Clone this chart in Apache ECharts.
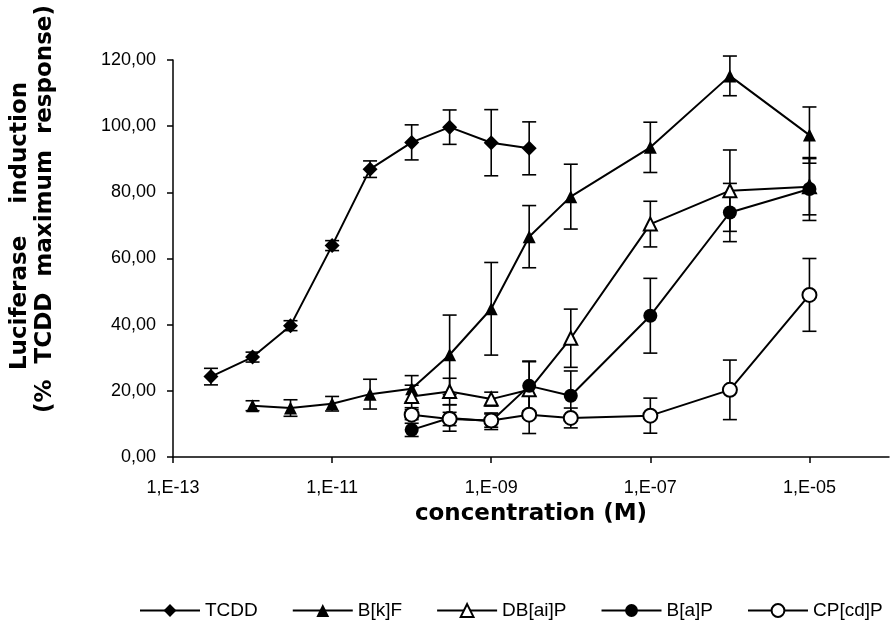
<!DOCTYPE html>
<html>
<head>
<meta charset="utf-8">
<script src="https://cdn.jsdelivr.net/npm/echarts@6/dist/echarts.min.js"></script>
<style>
  html, body { margin: 0; padding: 0; background: #fff; }
  #chart { width: 893px; height: 630px; }
</style>
</head>
<body>
<div id="chart"></div>
<script>
// concentrations (M) and % TCDD max response
var concTCDD = [3e-13, 1e-12, 3e-12, 1e-11, 3e-11, 1e-10, 3e-10, 1e-9, 3e-9];
var tcdd = [24.3, 30.2, 39.7, 63.9, 87.0, 95.1, 99.7, 95.0, 93.3];
var tcddErr = [2.5, 1.5, 1.5, 1.5, 2.5, 5.3, 5.2, 10, 8];

var concBkF = [1e-12, 3e-12, 1e-11, 3e-11, 1e-10, 3e-10, 1e-9, 3e-9, 1e-8, 1e-7, 1e-6, 1e-5];
var bkf = [15.5, 14.8, 16.1, 19.0, 20.6, 30.9, 44.8, 66.6, 78.7, 93.6, 115.2, 97.3];
var bkfErr = [1.5, 2.5, 2.2, 4.5, 4, 12, 14, 9.4, 9.8, 7.6, 6, 8.5];

var concOther = [1e-10, 3e-10, 1e-9, 3e-9, 1e-8, 1e-7, 1e-6, 1e-5];
var dbaip = [18.3, 19.8, 17.5, 20.3, 35.9, 70.4, 80.5, 81.7];
var dbaipErr = [3.4, 4, 2.1, 8.5, 8.8, 6.9, 12.3, 8.5];
var bap = [8.2, 11.8, 10.8, 21.5, 18.5, 42.7, 73.9, 81.0];
var bapErr = [2, 4, 2.5, 7.5, 7.5, 11.3, 8.8, 9.5];
var cpcdp = [12.8, 11.5, 11.0, 12.8, 11.8, 12.5, 20.3, 49.0];
var cpcdpErr = [1.5, 2, 2, 5.7, 3, 5.3, 9, 11];

var xTickExp = [-13, -11, -9, -7, -5];
var yTicks = [0, 20, 40, 60, 80, 100, 120];
var names = ['TCDD', 'B[k]F', 'DB[ai]P', 'B[a]P', 'CP[cd]P'];
var symbols = ['diamond', 'triangle', 'emptyTriangle', 'circle', 'emptyCircle'];
var sizes = [15, 13, 13, 14, 14];

var groups = [
    [concTCDD, tcdd, tcddErr],
    [concBkF, bkf, bkfErr],
    [concOther, dbaip, dbaipErr],
    [concOther, bap, bapErr],
    [concOther, cpcdp, cpcdpErr]
];

function renderErr(params, api) {
    var x = api.value(0);
    var top = api.coord([x, api.value(2)]);
    var bot = api.coord([x, api.value(1)]);
    var w = 7;
    var st = { stroke: '#000', lineWidth: 1.6 };
    return {
        type: 'group',
        children: [
            { type: 'line', shape: { x1: top[0], y1: top[1], x2: bot[0], y2: bot[1] }, style: st },
            { type: 'line', shape: { x1: top[0] - w, y1: top[1], x2: top[0] + w, y2: top[1] }, style: st },
            { type: 'line', shape: { x1: bot[0] - w, y1: bot[1], x2: bot[0] + w, y2: bot[1] }, style: st }
        ]
    };
}

var series = [];
for (var i = 0; i < groups.length; i++) {
    var c = groups[i][0], v = groups[i][1], e = groups[i][2];
    var errData = [];
    var lineData = [];
    for (var j = 0; j < c.length; j++) {
        var lx = Math.log10(c[j]);
        errData.push([lx, v[j] - e[j], v[j] + e[j]]);
        lineData.push([lx, v[j]]);
    }
    series.push({
        type: 'custom',
        renderItem: renderErr,
        data: errData,
        encode: { x: 0, y: [1, 2] },
        silent: true,
        z: 1
    });
    series.push({
        name: names[i],
        type: 'line',
        data: lineData,
        symbol: symbols[i],
        symbolSize: sizes[i],
        showAllSymbol: true,
        itemStyle: { color: '#000', borderWidth: 1.6 },
        lineStyle: { color: '#000', width: 2 },
        z: 3
    });
}

var chart = echarts.init(document.getElementById('chart'));
chart.setOption({
    backgroundColor: '#fff',
    animation: false,
    grid: { left: 173, right: 4, top: 60, bottom: 173 },
    legend: {
        data: names,
        left: 134,
        top: 596,
        itemWidth: 60,
        itemHeight: 16,
        itemGap: 34,
        textStyle: { fontFamily: 'Liberation Sans', fontSize: 19, color: '#000' }
    },
    xAxis: {
        type: 'value',
        min: -13,
        max: -4,
        interval: 1,
        name: 'concentration (M)',
        nameLocation: 'middle',
        nameGap: 46,
        nameTextStyle: { fontFamily: 'DejaVu Sans', fontWeight: 'bold', fontSize: 23, color: '#000' },
        axisLine: { lineStyle: { color: '#000', width: 1.5 } },
        axisTick: { length: 6, lineStyle: { color: '#000', width: 1.5 }, customValues: xTickExp },
        axisLabel: {
            customValues: xTickExp,
            margin: 22,
            fontFamily: 'Liberation Sans',
            fontSize: 18,
            color: '#000',
            formatter: function (val) {
                var p = String(-val);
                if (p.length < 2) p = '0' + p;
                return '1,E-' + p;
            }
        },
        splitLine: { show: false }
    },
    yAxis: {
        type: 'value',
        min: 0,
        max: 120,
        interval: 20,
        axisLine: { show: true, lineStyle: { color: '#000', width: 1.5 } },
        axisTick: { show: true, length: 6, lineStyle: { color: '#000', width: 1.5 }, customValues: yTicks },
        axisLabel: {
            margin: 17,
            fontFamily: 'Liberation Sans',
            fontSize: 18,
            color: '#000',
            formatter: function (val) { return val.toFixed(2).replace('.', ','); }
        },
        splitLine: { show: false }
    },
    graphic: [
        {
            type: 'text', x: 20, y: 226, rotation: Math.PI / 2,
            style: { text: 'Luciferase    induction', textAlign: 'center', textVerticalAlign: 'middle',
                     font: 'bold 23px "DejaVu Sans"', fill: '#000' }
        },
        {
            type: 'text', x: 45, y: 209, rotation: Math.PI / 2,
            style: { text: '(%  TCDD  maximum  response)', textAlign: 'center', textVerticalAlign: 'middle',
                     font: 'bold 23px "DejaVu Sans"', fill: '#000' }
        }
    ],
    series: series
});
</script>
</body>
</html>
